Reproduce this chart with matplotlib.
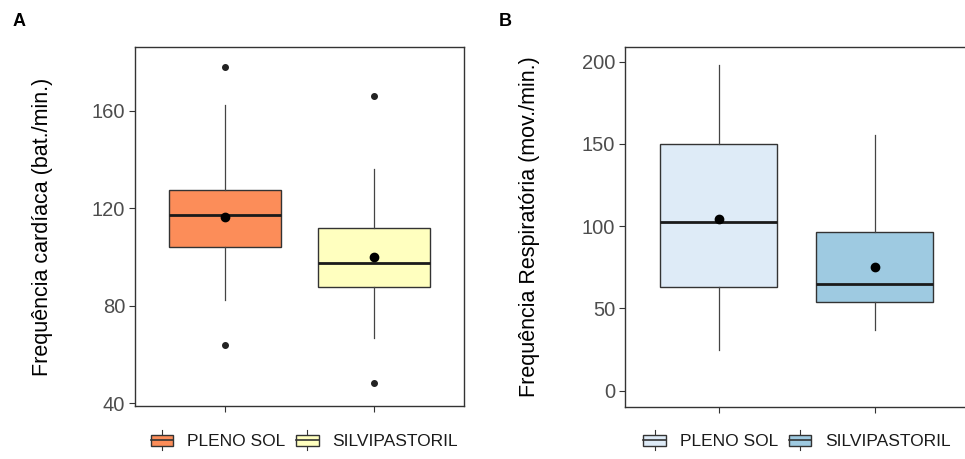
import matplotlib
matplotlib.use("Agg")
import matplotlib.pyplot as plt
from matplotlib.patches import Rectangle
from matplotlib.lines import Line2D
from matplotlib.legend_handler import HandlerBase

plt.rcParams['font.family'] = ['Liberation Sans', 'DejaVu Sans']

groups = ["PLENO SOL", "SILVIPASTORIL"]

# Panel A - heart rate (bat./min.)
a_whislo = [82.4, 66.7]
a_q1 = [104.1, 87.6]
a_med = [117.4, 97.4]
a_q3 = [127.6, 111.9]
a_whishi = [162.4, 136.0]
a_mean = [116.6, 100.0]
a_fliers = [[178.0, 64.0], [166.0, 48.3]]
a_colors = ["#FC8D59", "#FFFFBF"]
a_ticks = [40, 80, 120, 160]

# Panel B - respiratory rate (mov./min.)
b_whislo = [24.7, 36.9]
b_q1 = [62.9, 53.7]
b_med = [102.4, 64.7]
b_q3 = [150.2, 96.3]
b_whishi = [198.0, 155.6]
b_mean = [104.4, 75.2]
b_fliers = [[], []]
b_colors = ["#DEEBF7", "#9ECAE1"]
b_ticks = [0, 50, 100, 150, 200]

W, H = 965, 459
fig = plt.figure(figsize=(W / 100, H / 100), dpi=100)


class BoxKeyHandler(HandlerBase):
    def __init__(self, color):
        super().__init__()
        self.color = color

    def create_artists(self, legend, orig_handle, xdescent, ydescent,
                       width, height, fontsize, trans):
        bh = height * 0.75
        y0 = (height - bh) / 2 - ydescent
        x0 = -xdescent
        rect = Rectangle((x0, y0), width, bh, facecolor=self.color,
                         edgecolor="#333333", lw=1.0, transform=trans)
        med = Line2D([x0, x0 + width], [y0 + bh / 2, y0 + bh / 2],
                     color="#333333", lw=1.2, transform=trans)
        cx = x0 + width / 2
        w1 = Line2D([cx, cx], [y0 + bh, y0 + bh + height * 0.3],
                    color="#333333", lw=0.8, transform=trans)
        w2 = Line2D([cx, cx], [y0 - height * 0.3, y0],
                    color="#333333", lw=0.8, transform=trans)
        return [w1, w2, rect, med]


def panel(rect_px, whislo, q1, med, q3, whishi, mean, fliers, colors,
          ticks, ylim, ylabel, letter, letter_x, legend_anchor_x):
    l, t, r, b = rect_px
    ax = fig.add_axes([l / W, (H - b) / H, (r - l) / W, (b - t) / H])
    stats = []
    for i in range(len(groups)):
        stats.append(dict(med=med[i], q1=q1[i], q3=q3[i], whislo=whislo[i],
                          whishi=whishi[i], fliers=fliers[i], mean=mean[i],
                          label=groups[i]))
    bp = ax.bxp(stats, positions=[1, 2], widths=0.75, patch_artist=True,
                showmeans=True, showcaps=False,
                boxprops=dict(edgecolor="#333333", linewidth=1.0),
                whiskerprops=dict(color="#444444", linewidth=0.9),
                medianprops=dict(color="#1a1a1a", linewidth=2.0),
                meanprops=dict(marker="o", markerfacecolor="black",
                               markeredgecolor="black", markersize=6),
                flierprops=dict(marker="o", markerfacecolor="#222222",
                                markeredgecolor="#222222", markersize=4))
    for p, c in zip(bp["boxes"], colors):
        p.set_facecolor(c)
    ax.set_xlim(0.4, 2.6)
    ax.set_ylim(*ylim)
    ax.set_yticks(ticks)
    ax.set_xticks([1, 2])
    ax.set_xticklabels([])
    ax.tick_params(axis="both", colors="#333333", labelcolor="#4D4D4D",
                   labelsize=14.5, length=4, width=0.8, pad=3)
    for s in ax.spines.values():
        s.set_color("#333333")
        s.set_linewidth(1.0)
    ax.set_ylabel(ylabel, fontsize=15.5, color="black")
    ax.yaxis.set_label_coords((letter_x[1] - l) / (r - l), 0.5)
    fig.text(letter_x[0] / W, 1 - 22 / H, letter, fontsize=13,
             fontweight="bold", ha="center", va="center")
    handles = [Rectangle((0, 0), 1, 1) for _ in groups]
    leg = ax.legend(handles, groups, loc="center",
                    bbox_to_anchor=(legend_anchor_x / W, 1 - 441 / H),
                    bbox_transform=fig.transFigure, ncol=2, frameon=False,
                    fontsize=12.5, handlelength=1.3, handleheight=0.9,
                    handletextpad=0.8, columnspacing=0.6,
                    handler_map={h: BoxKeyHandler(c)
                                 for h, c in zip(handles, colors)})
    for txt in leg.get_texts():
        txt.set_color("#1a1a1a")
    return ax


panel((135, 47, 464, 406), a_whislo, a_q1, a_med, a_q3, a_whishi, a_mean,
      a_fliers, a_colors, a_ticks, (38.9, 186.2),
      "Frequência cardíaca (bat./min.)", "A", (19, 53), 304.5)
panel((625, 47, 968.2, 406.7), b_whislo, b_q1, b_med, b_q3, b_whishi, b_mean,
      b_fliers, b_colors, b_ticks, (-9.7, 208.9),
      "Frequência Respiratória (mov./min.)", "B", (505, 540), 797)

fig.savefig("out.png", dpi=100)
